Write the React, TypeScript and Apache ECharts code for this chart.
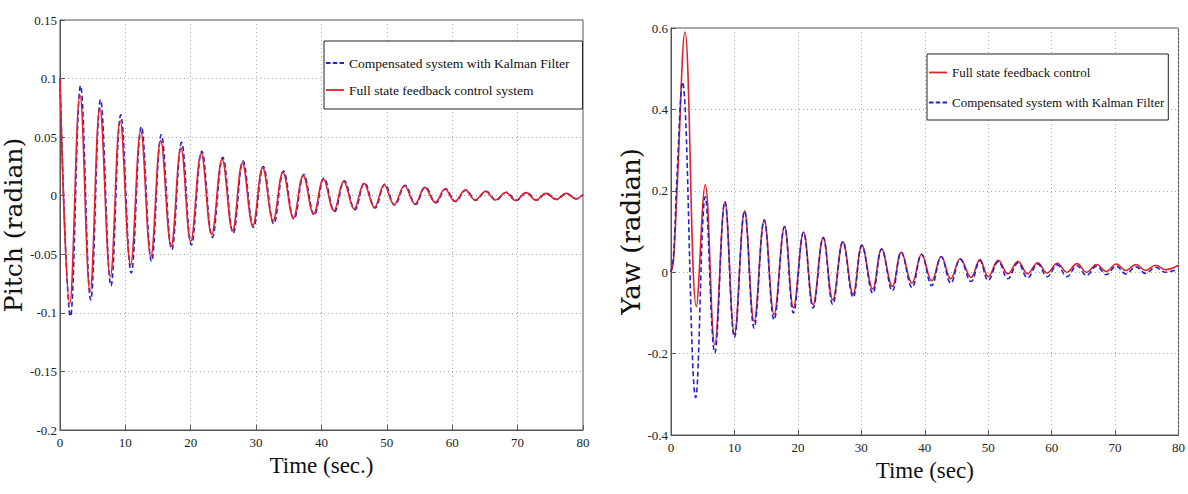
import React, { useEffect, useRef } from "react";
import * as echarts from "echarts";

// ---------- Data ----------
const KAL = "Compensated system with Kalman Filter";
const FULL_SYS = "Full state feedback control system";
const FULL = "Full state feedback control";

const xTicks = [0, 80, 10]; // min, max, interval (both plots)
const pitchTicks = [-0.2, 0.15, 0.05];
const yawTicks = [-0.4, 0.6, 0.2];

// Pitch – full state feedback (red), extrema in time order
const pitchFullT = [0, 1.5, 3.05, 4.6, 6.1, 7.7, 9.2, 10.8, 12.35, 13.9, 15.4, 17.0, 18.5, 20.0, 21.6, 23.2, 24.8, 26.4, 27.9, 29.5, 31.0, 32.6, 34.1, 35.7, 37.2, 38.8, 40.3, 41.9, 43.4, 45.0, 46.5, 48.1, 49.6, 51.1, 52.7, 54.3, 55.8, 57.4, 58.9, 60.4, 62.0, 63.5, 65.1, 66.6, 68.2, 69.7, 71.3, 72.8, 74.3, 75.9, 77.4, 78.9, 80];
const pitchFullV = [0.1, -0.092, 0.086, -0.082, 0.075, -0.069, 0.064, -0.059, 0.055, -0.052, 0.047, -0.043, 0.041, -0.039, 0.036, -0.033, 0.031, -0.03, 0.028, -0.0256, 0.024, -0.0214, 0.02, -0.019, 0.017, -0.0157, 0.0143, -0.0128, 0.0122, -0.0114, 0.0105, -0.01, 0.0094, -0.0077, 0.0085, -0.0071, 0.0071, -0.0057, 0.0057, -0.0049, 0.0048, -0.0037, 0.0037, -0.0037, 0.0028, -0.004, 0.0026, -0.0038, 0.002, -0.0032, 0.002, -0.0026, 0.001];

// Pitch – compensated with Kalman filter (blue dashed)
const pitchKalT = [0, 1.6, 3.15, 4.7, 6.2, 7.8, 9.3, 10.9, 12.45, 14.0, 15.5, 17.1, 18.6, 20.1, 21.7, 23.3, 24.9, 26.5, 28.0, 29.6, 31.1, 32.7, 34.2, 35.8, 37.3, 38.9, 40.4, 42.0, 43.5, 45.1, 46.6, 48.2, 49.7, 51.2, 52.8, 54.4, 55.9, 57.5, 59.0, 60.5, 62.1, 63.6, 65.2, 66.7, 68.3, 69.8, 71.4, 72.9, 74.4, 76.0, 77.5, 79.0, 80];
const pitchKalV = [0.1, -0.103, 0.094, -0.089, 0.082, -0.077, 0.069, -0.066, 0.059, -0.056, 0.052, -0.046, 0.0455, -0.042, 0.038, -0.0356, 0.0327, -0.032, 0.0295, -0.027, 0.025, -0.024, 0.021, -0.02, 0.018, -0.0165, 0.015, -0.0135, 0.0128, -0.012, 0.011, -0.0105, 0.0098, -0.008, 0.0088, -0.0074, 0.0073, -0.006, 0.0058, -0.005, 0.0049, -0.0039, 0.0038, -0.0038, 0.003, -0.004, 0.0027, -0.0038, 0.0021, -0.0032, 0.002, -0.0027, 0.001];

// Yaw – full state feedback (red)
const yawFullT = [0, 0.4, 1.0, 2.2, 4.0, 5.4, 6.9, 8.5, 10.0, 11.6, 13.1, 14.7, 16.25, 17.9, 19.3, 20.9, 22.4, 24.0, 25.5, 27.1, 28.7, 30.1, 31.8, 33.2, 34.9, 36.3, 38.0, 39.5, 41.1, 42.6, 44.1, 45.6, 47.3, 48.7, 50.0, 51.6, 53.1, 54.7, 56.2, 57.8, 59.3, 60.9, 62.4, 64.0, 65.5, 67.1, 68.6, 70.2, 71.7, 73.3, 74.8, 76.4, 77.9, 80];
const yawFullV = [0, 0.03, 0.22, 0.59, -0.084, 0.215, -0.178, 0.173, -0.153, 0.15, -0.121, 0.128, -0.104, 0.112, -0.087, 0.098, -0.08, 0.085, -0.068, 0.075, -0.054, 0.066, -0.041, 0.057, -0.035, 0.049, -0.027, 0.044, -0.021, 0.0386, -0.016, 0.033, -0.013, 0.031, -0.011, 0.029, -0.004, 0.027, -0.004, 0.023, -0.002, 0.022, 0.0, 0.021, 0.0, 0.019, 0.002, 0.02, 0.004, 0.019, 0.004, 0.017, 0.006, 0.017];

// Yaw – compensated with Kalman filter (blue dashed)
const yawKalT = [0, 0.4, 0.9, 1.8, 3.9, 5.4, 6.9, 8.5, 10.0, 11.6, 13.1, 14.7, 16.25, 17.9, 19.3, 20.9, 22.4, 24.0, 25.5, 27.1, 28.7, 30.1, 31.8, 33.2, 34.9, 36.3, 38.0, 39.5, 41.1, 42.6, 44.1, 45.6, 47.3, 48.7, 50.0, 51.6, 53.1, 54.7, 56.2, 57.8, 59.3, 60.9, 62.4, 64.0, 65.5, 67.1, 68.6, 70.2, 71.7, 73.3, 74.8, 76.4, 77.9, 80];
const yawKalV = [0, 0.04, 0.22, 0.467, -0.308, 0.185, -0.198, 0.173, -0.16, 0.15, -0.137, 0.128, -0.117, 0.112, -0.1, 0.098, -0.088, 0.085, -0.079, 0.075, -0.062, 0.066, -0.052, 0.057, -0.046, 0.049, -0.038, 0.044, -0.033, 0.038, -0.027, 0.032, -0.023, 0.028, -0.02, 0.026, -0.016, 0.023, -0.014, 0.02, -0.011, 0.018, -0.011, 0.016, -0.008, 0.015, -0.006, 0.015, -0.004, 0.013, -0.003, 0.012, 0.0, 0.008];

const zip = (t: number[], v: number[]) => t.map((x, i) => [x, v[i]]);

const RED = "#e3202b";
const BLUE = "#2323d0";
const SERIF = "Liberation Serif";
const BIG_SERIF = "DejaVu Serif";

export default function App() {
  const ref = useRef<HTMLDivElement>(null);
  useEffect(() => {
    document.body.style.margin = "0";
    const chart = echarts.init(ref.current!, null, { renderer: "svg" });

    const xAxis = (gridIndex: number, name: string, nameGap: number) => ({
      gridIndex,
      type: "value",
      min: xTicks[0],
      max: xTicks[1],
      interval: xTicks[2],
      name,
      nameLocation: "middle",
      nameGap,
      nameTextStyle: { fontFamily: SERIF, fontSize: 23, color: "#111" },
      axisLine: { onZero: false, lineStyle: { color: "#555", width: 1 } },
      axisTick: { inside: true, length: 5, lineStyle: { color: "#555" } },
      axisLabel: { fontFamily: SERIF, fontSize: 13, color: "#222", margin: 6 },
      splitLine: { show: true, lineStyle: { color: "#aaa", type: [1, 3], width: 1 } },
    });
    const yAxis = (gridIndex: number, ticks: number[], name: string, nameGap: number, size: number) => ({
      gridIndex,
      type: "value",
      min: ticks[0],
      max: ticks[1],
      interval: ticks[2],
      name,
      nameLocation: "middle",
      nameGap,
      nameTextStyle: { fontFamily: BIG_SERIF, fontSize: size, color: "#111" },
      axisLine: { show: true, onZero: false, lineStyle: { color: "#555", width: 1 } },
      axisTick: { show: true, inside: true, length: 5, lineStyle: { color: "#555" } },
      axisLabel: { fontFamily: SERIF, fontSize: 13, color: "#222", margin: 3 },
      splitLine: { show: true, lineStyle: { color: "#aaa", type: [1, 3], width: 1 } },
    });

    const solidIcon = "path://M0,0h20v2h-20z";
    const dashIcon = "path://M0,0h5v2h-5zM7.5,0h5v2h-5zM15,0h5v2h-5z";

    const legendBase = {
      orient: "vertical",
      backgroundColor: "#fff",
      borderColor: "#222",
      borderWidth: 1,
      borderRadius: 0,
      itemWidth: 18,
      itemHeight: 2,
      selectedMode: false,
    };

    const lineSeries = (name: string, data: number[][], color: string, dashed: boolean, gi: number) => ({
      name,
      type: "line",
      xAxisIndex: gi,
      yAxisIndex: gi,
      data,
      smooth: 0.4,
      symbol: "none",
      lineStyle: { color, width: 1.6, type: dashed ? [5, 3] : "solid" },
      itemStyle: { color },
      silent: true,
    });

    chart.setOption({
      animation: false,
      backgroundColor: "#fff",
      grid: [
        { left: 59, top: 20, width: 524, height: 410, show: true, borderColor: "#555", borderWidth: 1 },
        { left: 671, top: 28, width: 512, height: 407, show: true, borderColor: "#555", borderWidth: 1 },
      ],
      xAxis: [xAxis(0, "Time (sec.)", 24), xAxis(1, "Time (sec)", 19)],
      yAxis: [
        yAxis(0, pitchTicks, "Pitch (radian)", 22, 25),
        yAxis(1, yawTicks, "Yaw (radian)", 20, 26),
      ],
      legend: [
        {
          ...legendBase,
          left: 324,
          top: 41,
          padding: [15, 13, 12, 2],
          itemGap: 13,
          textStyle: { fontFamily: SERIF, fontSize: 13.5, color: "#111" },
          data: [
            { name: KAL, icon: dashIcon },
            { name: FULL_SYS, icon: solidIcon },
          ],
        },
        {
          ...legendBase,
          left: 927,
          top: 54,
          padding: [12, 4, 11, 2],
          itemGap: 17,
          textStyle: { fontFamily: SERIF, fontSize: 13, color: "#111" },
          data: [
            { name: FULL, icon: solidIcon },
            { name: KAL, icon: dashIcon },
          ],
        },
      ],
      series: [
        lineSeries(KAL, zip(pitchKalT, pitchKalV), BLUE, true, 0),
        lineSeries(FULL_SYS, zip(pitchFullT, pitchFullV), RED, false, 0),
        lineSeries(FULL, zip(yawFullT, yawFullV), RED, false, 1),
        lineSeries(KAL, zip(yawKalT, yawKalV), BLUE, true, 1),
      ],
    });
    return () => chart.dispose();
  }, []);
  return <div ref={ref} style={{ width: 1188, height: 494 }} />;
}
